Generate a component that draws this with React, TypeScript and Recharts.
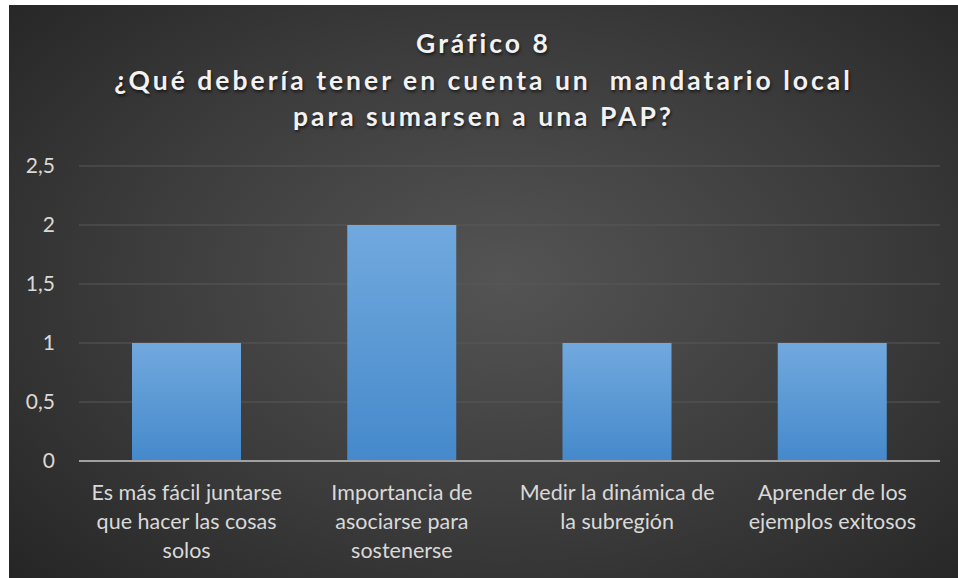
import { BarChart, Bar, XAxis, YAxis, CartesianGrid } from 'recharts'

const categories = [
  'Es más fácil juntarse que hacer las cosas solos',
  'Importancia de asociarse para sostenerse',
  'Medir la dinámica de la subregión',
  'Aprender de los ejemplos exitosos',
]
const labelLines = [
  ['Es más fácil juntarse', 'que hacer las cosas', 'solos'],
  ['Importancia de', 'asociarse para', 'sostenerse'],
  ['Medir la dinámica de', 'la subregión'],
  ['Aprender de los', 'ejemplos exitosos'],
]
const counts = [1, 2, 1, 1]
const yTicks = [0, 0.5, 1, 1.5, 2, 2.5]
const titleLines = ['Gráfico 8', '¿Qué debería tener en cuenta un\u00a0 mandatario local', 'para sumarsen a una PAP?']

const data = categories.map((c, i) => ({ name: c, value: counts[i] }))

const FONT = 'Lato, "Noto Sans", sans-serif'

function YTick({ y, payload }: any): JSX.Element {
  return (
    <text x={46} y={y} dy={7} textAnchor="end" fill="#d9d9d9" fontSize={21} fontFamily={FONT}>
      {String(payload.value).replace('.', ',')}
    </text>
  )
}

function XTick({ x, y, payload }: any): JSX.Element {
  const lines = labelLines[payload.index] ?? [String(payload.value)]
  return (
    <text x={x} y={y} textAnchor="middle" fill="#d9d9d9" fontSize={21.5} fontFamily={FONT}>
      {lines.map((l, i) => (
        <tspan key={i} x={x} dy={i === 0 ? 31 : 29}>{l}</tspan>
      ))}
    </text>
  )
}

export default function App(): JSX.Element {
  return (
    <div
      style={{
        position: 'absolute', left: 9, top: 5, width: 949, height: 573,
        background: 'radial-gradient(ellipse 70% 75% at 52% 48%, #545454 0%, #3c3c3c 55%, #262626 100%)',
      }}
    >
      <svg width={0} height={0} style={{ position: 'absolute' }}>
        <defs>
          <linearGradient id="barFill" x1="0" y1="0" x2="0" y2="1">
            <stop offset="0%" stopColor="#71a9de" />
            <stop offset="100%" stopColor="#4589cb" />
          </linearGradient>
        </defs>
      </svg>
      <div
        style={{
          position: 'absolute', left: 0, top: 20, width: 949, textAlign: 'center',
          fontFamily: FONT, fontWeight: 700, fontSize: 26.5, letterSpacing: 3,
          lineHeight: '36.5px', color: '#f2f2f2', textShadow: '1px 2px 3px rgba(0,0,0,0.6)',
        }}
      >
        {titleLines.map((t, i) => <div key={i}>{t}</div>)}
      </div>
      <BarChart
        width={949}
        height={573}
        data={data}
        margin={{ top: 161, right: 18, left: 0, bottom: 7 }}
      >
        <CartesianGrid vertical={false} stroke="#595959" strokeWidth={1} />
        <XAxis
          dataKey="name"
          interval={0}
          height={110}
          tickLine={false}
          axisLine={{ stroke: '#a0a0a0', strokeWidth: 2 }}
          tick={<XTick />}
        />
        <YAxis
          width={70}
          domain={[0, 2.5]}
          ticks={yTicks}
          axisLine={false}
          tickLine={false}
          tick={<YTick />}
        />
        <Bar dataKey="value" fill="url(#barFill)" barSize={109} isAnimationActive={false} />
      </BarChart>
    </div>
  )
}
